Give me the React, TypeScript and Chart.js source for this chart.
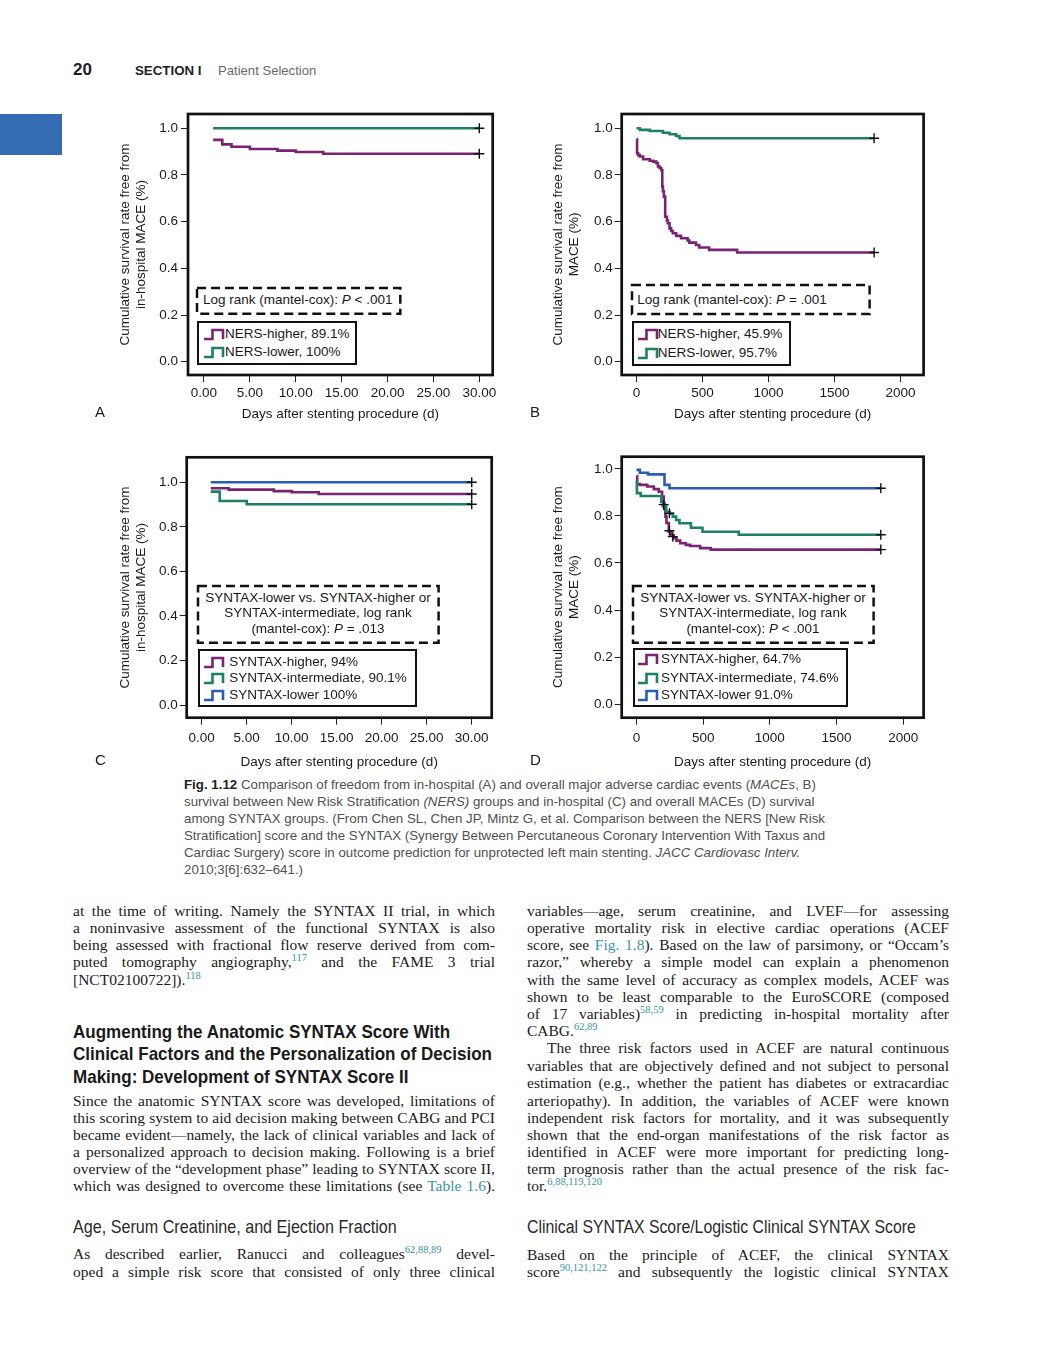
import React, { useEffect, useRef } from 'react';
import { Chart, registerables } from 'chart.js';

Chart.register(...registerables);

const SANS = '"Liberation Sans", Arial, Helvetica, sans-serif';
const SERIF = '"Liberation Serif", "Times New Roman", Times, serif';

const PURPLE = '#7a2372';
const GREEN = '#1b8064';
const BLUE = '#2b5db6';
const TEAL = '#3a93a8';

// ---------------- data ----------------
const yTicks = [0, 0.2, 0.4, 0.6, 0.8, 1.0];
const xTicksInHospital = [0, 5, 10, 15, 20, 25, 30];
const xTicksOverall = [0, 500, 1000, 1500, 2000];

// A: in-hospital MACE by NERS
const daysA_NERSHigher = [1, 2, 3, 5, 8, 10, 13, 30];
const survA_NERSHigher = [0.95, 0.931, 0.921, 0.911, 0.904, 0.898, 0.891, 0.891];
const daysA_NERSLower = [1, 30];
const survA_NERSLower = [1.0, 1.0];
const censorDaysA = [30, 30];
const censorSurvA = [1.0, 0.891];

// B: overall MACE by NERS
const daysB_NERSHigher = [0, 4, 12, 25, 50, 100, 125, 150, 162, 175, 187, 195, 200, 207, 217, 230, 237, 250, 262, 275, 300, 337, 387, 400, 450, 475, 550, 762, 1800];
const survB_NERSHigher = [0.953, 0.893, 0.885, 0.879, 0.867, 0.861, 0.857, 0.85, 0.836, 0.83, 0.821, 0.75, 0.73, 0.707, 0.621, 0.605, 0.593, 0.571, 0.56, 0.55, 0.539, 0.529, 0.519, 0.51, 0.5, 0.489, 0.479, 0.468, 0.468];
const daysB_NERSLower = [0, 25, 100, 200, 250, 300, 325, 1800];
const survB_NERSLower = [1.0, 0.993, 0.988, 0.981, 0.974, 0.967, 0.957, 0.957];
const censorDaysB = [1800, 1800];
const censorSurvB = [0.957, 0.468];

// C: in-hospital MACE by SYNTAX
const daysC_SyntaxHigher = [1, 3, 8, 10, 13, 30];
const survC_SyntaxHigher = [0.973, 0.967, 0.96, 0.955, 0.947, 0.947];
const daysC_SyntaxInter = [1, 2, 5, 30];
const survC_SyntaxInter = [0.958, 0.916, 0.901, 0.901];
const daysC_SyntaxLower = [1, 30];
const survC_SyntaxLower = [1.0, 1.0];
const censorDaysC = [30, 30, 30];
const censorSurvC = [1.0, 0.947, 0.901];

// D: overall MACE by SYNTAX
const daysD_SyntaxHigher = [0, 5, 25, 81, 130, 167, 192, 204, 210, 217, 225, 242, 260, 279, 300, 328, 370, 403, 477, 557, 1832];
const survD_SyntaxHigher = [0.97, 0.936, 0.932, 0.925, 0.914, 0.903, 0.882, 0.854, 0.83, 0.797, 0.77, 0.733, 0.718, 0.705, 0.695, 0.684, 0.677, 0.672, 0.663, 0.657, 0.657];
const daysD_SyntaxInter = [0, 3, 32, 186, 198, 223, 250, 272, 297, 322, 408, 495, 767, 1832];
const survD_SyntaxInter = [0.95, 0.897, 0.885, 0.86, 0.84, 0.818, 0.81, 0.797, 0.783, 0.769, 0.75, 0.733, 0.72, 0.72];
const daysD_SyntaxLower = [0, 25, 86, 210, 247, 1832];
const survD_SyntaxLower = [0.996, 0.984, 0.977, 0.932, 0.918, 0.918];
const censorDaysD = [204, 247, 247, 272, 1832, 1832, 1832];
const censorSurvD = [0.848, 0.811, 0.737, 0.712, 0.918, 0.72, 0.657];

const yTitleInHospital = ['Cumulative survival rate free from', 'in-hospital MACE (%)'];
const yTitleOverall = ['Cumulative survival rate free from', 'MACE (%)'];
const xTitle = 'Days after stenting procedure (d)';

// ---------------- chart configs ----------------
const cfgA = {
  left: 100, top: 100, width: 400, height: 330,
  pad: { left: 0, top: 14, right: 7.3, bottom: 5 }, yAxisWidth: 88, xAxisHeight: 50,
  xMin: -1.74, xMax: 31.46, yMin: -0.057, yMax: 1.061,
  xTicks: xTicksInHospital, xDecimals: 2, xTickPad: 3, xTitlePadBottom: 2.9,
  yTitle: yTitleInHospital, yTitlePad: 17, yTickPad: 3,
  series: [
    { days: daysA_NERSLower, surv: survA_NERSLower, color: GREEN },
    { days: daysA_NERSHigher, surv: survA_NERSHigher, color: PURPLE },
  ],
  censorDays: censorDaysA, censorSurv: censorSurvA,
};
const cfgB = {
  left: 530, top: 100, width: 400, height: 330,
  pad: { left: 0, top: 14, right: 3.3, bottom: 5 }, yAxisWidth: 91.7, xAxisHeight: 50,
  xMin: -112.5, xMax: 2175, yMin: -0.057, yMax: 1.061,
  xTicks: xTicksOverall, xDecimals: 0, xTickPad: 3, xTitlePadBottom: 2.9,
  yTitle: yTitleOverall, yTitlePad: 20, yTickPad: 2,
  series: [
    { days: daysB_NERSLower, surv: survB_NERSLower, color: GREEN },
    { days: daysB_NERSHigher, surv: survB_NERSHigher, color: PURPLE },
  ],
  censorDays: censorDaysB, censorSurv: censorSurvB,
};
const cfgC = {
  left: 100, top: 445, width: 400, height: 330,
  pad: { left: 0, top: 12.3, right: 8.3, bottom: 2.3 }, yAxisWidth: 86.7, xAxisHeight: 55,
  xMin: -1.67, xMax: 32.22, yMin: -0.057, yMax: 1.112,
  xTicks: xTicksInHospital, xDecimals: 2, xTickPad: 5.5, xTitlePadBottom: 2.3,
  yTitle: yTitleInHospital, yTitlePad: 16.7, yTickPad: 2,
  series: [
    { days: daysC_SyntaxLower, surv: survC_SyntaxLower, color: BLUE },
    { days: daysC_SyntaxInter, surv: survC_SyntaxInter, color: GREEN },
    { days: daysC_SyntaxHigher, surv: survC_SyntaxHigher, color: PURPLE },
  ],
  censorDays: censorDaysC, censorSurv: censorSurvC,
};
const cfgD = {
  left: 530, top: 445, width: 400, height: 330,
  pad: { left: 0, top: 11.7, right: 3.3, bottom: 2.3 }, yAxisWidth: 91.7, xAxisHeight: 55,
  xMin: -111, xMax: 2153, yMin: -0.058, yMax: 1.052,
  xTicks: xTicksOverall, xDecimals: 0, xTickPad: 5.5, xTitlePadBottom: 2.3,
  yTitle: yTitleOverall, yTitlePad: 20, yTickPad: 2,
  series: [
    { days: daysD_SyntaxLower, surv: survD_SyntaxLower, color: BLUE },
    { days: daysD_SyntaxInter, surv: survD_SyntaxInter, color: GREEN },
    { days: daysD_SyntaxHigher, surv: survD_SyntaxHigher, color: PURPLE },
  ],
  censorDays: censorDaysD, censorSurv: censorSurvD,
};

const framePlugin = {
  id: 'kmFrame',
  afterDraw(chart: any) {
    const { ctx, chartArea: a } = chart;
    ctx.save();
    ctx.strokeStyle = '#111';
    ctx.lineWidth = 2.7;
    ctx.strokeRect(a.left, a.top, a.right - a.left, a.bottom - a.top);
    ctx.restore();
  },
};

function KMChart({ cfg }: { cfg: any }) {
  const ref = useRef<HTMLCanvasElement | null>(null);
  useEffect(() => {
    if (!ref.current) return;
    const tickFont = { family: 'Liberation Sans', size: 13.5, lineHeight: 1.2 };
    const yTitleFont = { family: 'Liberation Sans', size: 13.5, lineHeight: 1.22 };
    const lines = cfg.series.map((s: any) => ({
      data: s.days.map((d: number, i: number) => ({ x: d, y: s.surv[i] })),
      borderColor: s.color,
      backgroundColor: s.color,
      borderWidth: 2.6,
      pointRadius: 0,
      stepped: true,
      fill: false,
      tension: 0,
      borderCapStyle: 'butt',
      borderJoinStyle: 'miter',
      order: 1,
    }));
    const censor = {
      data: cfg.censorDays.map((d: number, i: number) => ({ x: d, y: cfg.censorSurv[i] })),
      showLine: false,
      pointStyle: 'cross',
      pointRadius: 5,
      pointBorderColor: '#111',
      pointBorderWidth: 1.4,
      borderColor: '#111',
      backgroundColor: '#111',
      order: -1,
    };
    const chart = new Chart(ref.current, {
      type: 'line',
      data: { datasets: [...lines, censor] },
      options: {
        responsive: false,
        animation: false,
        events: [],
        layout: { padding: cfg.pad },
        plugins: { legend: { display: false }, tooltip: { enabled: false } },
        scales: {
          x: {
            type: 'linear',
            min: cfg.xMin,
            max: cfg.xMax,
            afterBuildTicks: (s: any) => { s.ticks = cfg.xTicks.map((v: number) => ({ value: v })); },
            afterFit: (s: any) => { s.height = cfg.xAxisHeight; },
            grid: { drawOnChartArea: false, drawTicks: true, tickLength: 7, color: '#222', lineWidth: 1 },
            border: { display: false },
            ticks: {
              color: '#1a1a1a', font: tickFont, padding: cfg.xTickPad, maxRotation: 0, autoSkip: false,
              callback: (v: any) => Number(v).toFixed(cfg.xDecimals),
            },
            title: { display: true, text: xTitle, color: '#1a1a1a', font: tickFont, padding: { top: 0, bottom: cfg.xTitlePadBottom } },
          },
          y: {
            type: 'linear',
            min: cfg.yMin,
            max: cfg.yMax,
            afterBuildTicks: (s: any) => { s.ticks = yTicks.map((v: number) => ({ value: v })); },
            afterFit: (s: any) => { s.width = cfg.yAxisWidth; },
            grid: { drawOnChartArea: false, drawTicks: true, tickLength: 7, color: '#222', lineWidth: 1 },
            border: { display: false },
            ticks: {
              color: '#1a1a1a', font: tickFont, padding: cfg.yTickPad, autoSkip: false,
              callback: (v: any) => Number(v).toFixed(1),
            },
            title: { display: true, text: cfg.yTitle, color: '#1a1a1a', font: yTitleFont, padding: { top: cfg.yTitlePad, bottom: 0 } },
          },
        },
      } as any,
      plugins: [framePlugin as any],
    } as any);
    return () => chart.destroy();
  }, [cfg]);
  return (
    <canvas
      ref={ref}
      width={cfg.width}
      height={cfg.height}
      style={{ position: 'absolute', left: cfg.left, top: cfg.top, width: cfg.width, height: cfg.height }}
    />
  );
}

// ---------------- overlay helpers ----------------
function T({ x, y, size = 13.5, children, style }: any) {
  return (
    <div
      style={{
        position: 'absolute', left: x, top: y - size * 0.6, height: size * 1.2,
        lineHeight: `${size * 1.2}px`, fontSize: size, fontFamily: SANS, color: '#1a1a1a',
        whiteSpace: 'nowrap', ...style,
      }}
    >
      {children}
    </div>
  );
}

function DashedBox({ x, y, w, h }: any) {
  return (
    <svg style={{ position: 'absolute', left: x - 2, top: y - 2 }} width={w + 4} height={h + 4}>
      <rect x={2} y={2} width={w} height={h} fill="#fff" stroke="#111" strokeWidth={2.5} strokeDasharray="9 5" />
    </svg>
  );
}

function LegendBox({ x, y, w, h }: any) {
  return (
    <div
      style={{
        position: 'absolute', left: x, top: y, width: w, height: h, boxSizing: 'border-box',
        border: '2.6px solid #111', background: '#fff',
      }}
    />
  );
}

function StepIcon({ x, y, color }: any) {
  return (
    <svg style={{ position: 'absolute', left: x, top: y - 6 }} width={22} height={13}>
      <polyline points="0,11 8.5,11 8.5,2 19,2 19,11" fill="none" stroke={color} strokeWidth={2.6} />
    </svg>
  );
}

function LegendEntry({ ix, tx, y, color, children }: any) {
  return (
    <>
      <StepIcon x={ix} y={y} color={color} />
      <T x={tx} y={y}>{children}</T>
    </>
  );
}

const Sup = ({ children }: any) => (
  <span style={{ fontSize: 10.5, color: TEAL, position: 'relative', top: -6 }}>{children}</span>
);
const Link = ({ children }: any) => <span style={{ color: TEAL }}>{children}</span>;

function BL({ x, y, w = 422, j = true, children }: any) {
  return (
    <div
      style={{
        position: 'absolute', left: x, top: y - 10, width: w, height: 17, lineHeight: '17px',
        fontFamily: SERIF, fontSize: 15.5, color: '#1a1a1a', whiteSpace: 'nowrap',
        textAlign: j ? 'justify' : 'left', textAlignLast: j ? 'justify' : 'left',
      } as any}
    >
      {children}
    </div>
  );
}

function Heading({ x, y, bold, scale, children }: any) {
  return (
    <div
      style={{
        position: 'absolute', left: x, top: y - 11, height: 22, lineHeight: '22px',
        fontFamily: SANS, fontSize: 18.5, fontWeight: bold ? 700 : 400,
        color: bold ? '#1a1a1a' : '#2a2a2a', whiteSpace: 'nowrap',
        transform: `scaleX(${scale})`, transformOrigin: 'left center',
      }}
    >
      {children}
    </div>
  );
}

const LX = 73;
const RX = 527;

export default function App() {
  return (
    <div
      style={{
        position: 'absolute', left: 0, top: 0, width: 1052, height: 1346, background: '#fff',
        overflow: 'hidden', fontFamily: SANS,
      }}
    >
      {/* page header */}
      <T x={73} y={70} size={17} style={{ fontWeight: 700, color: '#222' }}>20</T>
      <T x={135} y={71} size={13.3} style={{ fontWeight: 700, color: '#222' }}>SECTION I</T>
      <T x={218} y={71} size={13.1} style={{ color: '#6a6a6a' }}>Patient Selection</T>
      <div style={{ position: 'absolute', left: 0, top: 114, width: 62, height: 41, background: '#356cb4' }} />

      {/* charts */}
      <KMChart cfg={cfgA} />
      <KMChart cfg={cfgB} />
      <KMChart cfg={cfgC} />
      <KMChart cfg={cfgD} />

      {/* panel letters */}
      <T x={95} y={412} size={15}>A</T>
      <T x={530} y={412} size={15}>B</T>
      <T x={95} y={760} size={15}>C</T>
      <T x={530} y={760} size={15}>D</T>

      {/* A annotations */}
      <DashedBox x={196.7} y={288.3} w={203.3} h={25.7} />
      <T x={203} y={300}>Log rank (mantel-cox): <i>P</i> &lt; .001</T>
      <LegendBox x={196.7} y={320.7} w={160.6} h={44.3} />
      <LegendEntry ix={204} tx={225} y={334} color={PURPLE}>NERS-higher, 89.1%</LegendEntry>
      <LegendEntry ix={204} tx={225} y={352.3} color={GREEN}>NERS-lower, 100%</LegendEntry>

      {/* B annotations */}
      <DashedBox x={631.7} y={285} w={237.6} h={29} />
      <T x={637.3} y={300}>Log rank (mantel-cox): <i>P</i> = .001</T>
      <LegendBox x={631.7} y={320.7} w={159} h={45} />
      <LegendEntry ix={638} tx={657.7} y={334} color={PURPLE}>NERS-higher, 45.9%</LegendEntry>
      <LegendEntry ix={638} tx={657.7} y={352.7} color={GREEN}>NERS-lower, 95.7%</LegendEntry>

      {/* C annotations */}
      <DashedBox x={197.7} y={586} w={240.6} h={56.7} />
      <T x={197.7} y={597.7} style={{ width: 240.6, textAlign: 'center' }}>SYNTAX-lower vs. SYNTAX-higher or</T>
      <T x={197.7} y={613.3} style={{ width: 240.6, textAlign: 'center' }}>SYNTAX-intermediate, log rank</T>
      <T x={197.7} y={629} style={{ width: 240.6, textAlign: 'center' }}>(mantel-cox): <i>P</i> = .013</T>
      <LegendBox x={197.7} y={649} w={219} h={57.7} />
      <LegendEntry ix={204} tx={229.3} y={661.7} color={PURPLE}>SYNTAX-higher, 94%</LegendEntry>
      <LegendEntry ix={204} tx={229.3} y={678.3} color={GREEN}>SYNTAX-intermediate, 90.1%</LegendEntry>
      <LegendEntry ix={204} tx={229.3} y={695} color={BLUE}>SYNTAX-lower 100%</LegendEntry>

      {/* D annotations */}
      <DashedBox x={632.7} y={586} w={240.6} h={56.7} />
      <T x={632.7} y={597.7} style={{ width: 240.6, textAlign: 'center' }}>SYNTAX-lower vs. SYNTAX-higher or</T>
      <T x={632.7} y={613.3} style={{ width: 240.6, textAlign: 'center' }}>SYNTAX-intermediate, log rank</T>
      <T x={632.7} y={629} style={{ width: 240.6, textAlign: 'center' }}>(mantel-cox): <i>P</i> &lt; .001</T>
      <LegendBox x={632.7} y={648.3} w={215.6} h={58.4} />
      <LegendEntry ix={638} tx={661} y={659.3} color={PURPLE}>SYNTAX-higher, 64.7%</LegendEntry>
      <LegendEntry ix={638} tx={661} y={677.7} color={GREEN}>SYNTAX-intermediate, 74.6%</LegendEntry>
      <LegendEntry ix={638} tx={661} y={695} color={BLUE}>SYNTAX-lower 91.0%</LegendEntry>

      {/* caption */}
      <div style={{ position: 'absolute', left: 184, top: 776, fontFamily: SANS, fontSize: 13.3, lineHeight: '17px', color: '#505050', whiteSpace: 'nowrap' }}>
        <div><b style={{ color: '#222' }}>Fig. 1.12</b> Comparison of freedom from in-hospital (A) and overall major adverse cardiac events (<i>MACEs</i>, B)</div>
        <div>survival between New Risk Stratification <i>(NERS)</i> groups and in-hospital (C) and overall MACEs (D) survival</div>
        <div>among SYNTAX groups. (From Chen SL, Chen JP, Mintz G, et al. Comparison between the NERS [New Risk</div>
        <div>Stratification] score and the SYNTAX (Synergy Between Percutaneous Coronary Intervention With Taxus and</div>
        <div>Cardiac Surgery) score in outcome prediction for unprotected left main stenting. <i>JACC Cardiovasc Interv.</i></div>
        <div>2010;3[6]:632–641.)</div>
      </div>

      {/* left column */}
      <BL x={LX} y={911.7}>at the time of writing. Namely the SYNTAX II trial, in which</BL>
      <BL x={LX} y={929}>a noninvasive assessment of the functional SYNTAX is also</BL>
      <BL x={LX} y={946.3}>being assessed with fractional flow reserve derived from com-</BL>
      <BL x={LX} y={963.3}>puted tomography angiography,<Sup>117</Sup> and the FAME 3 trial</BL>
      <BL x={LX} y={981} j={false}>[NCT02100722]).<Sup>118</Sup></BL>

      <Heading x={LX} y={1031.7} bold scale={0.92}>Augmenting the Anatomic SYNTAX Score With</Heading>
      <Heading x={LX} y={1054.3} bold scale={0.92}>Clinical Factors and the Personalization of Decision</Heading>
      <Heading x={LX} y={1076.7} bold scale={0.92}>Making: Development of SYNTAX Score II</Heading>

      <BL x={LX} y={1101.7}>Since the anatomic SYNTAX score was developed, limitations of</BL>
      <BL x={LX} y={1118.7}>this scoring system to aid decision making between CABG and PCI</BL>
      <BL x={LX} y={1135.7}>became evident—namely, the lack of clinical variables and lack of</BL>
      <BL x={LX} y={1152.7}>a personalized approach to decision making. Following is a brief</BL>
      <BL x={LX} y={1169.7}>overview of the “development phase” leading to SYNTAX score II,</BL>
      <BL x={LX} y={1186.7}>which was designed to overcome these limitations (see <Link>Table 1.6</Link>).</BL>

      <Heading x={LX} y={1227.3} scale={0.872}>Age, Serum Creatinine, and Ejection Fraction</Heading>
      <BL x={LX} y={1255}>As described earlier, Ranucci and colleagues<Sup>62,88,89</Sup> devel-</BL>
      <BL x={LX} y={1272.7}>oped a simple risk score that consisted of only three clinical</BL>

      {/* right column */}
      <BL x={RX} y={911.7}>variables—age, serum creatinine, and LVEF—for assessing</BL>
      <BL x={RX} y={929}>operative mortality risk in elective cardiac operations (ACEF</BL>
      <BL x={RX} y={946}>score, see <Link>Fig. 1.8</Link>). Based on the law of parsimony, or “Occam’s</BL>
      <BL x={RX} y={963.3}>razor,” whereby a simple model can explain a phenomenon</BL>
      <BL x={RX} y={980.7}>with the same level of accuracy as complex models, ACEF was</BL>
      <BL x={RX} y={997.7}>shown to be least comparable to the EuroSCORE (composed</BL>
      <BL x={RX} y={1015}>of 17 variables)<Sup>58,59</Sup> in predicting in-hospital mortality after</BL>
      <BL x={RX} y={1031.5} j={false}>CABG.<Sup>62,89</Sup></BL>
      <BL x={RX + 20} y={1049.3} w={402}>The three risk factors used in ACEF are natural continuous</BL>
      <BL x={RX} y={1066.7}>variables that are objectively defined and not subject to personal</BL>
      <BL x={RX} y={1084}>estimation (e.g., whether the patient has diabetes or extracardiac</BL>
      <BL x={RX} y={1101.7}>arteriopathy). In addition, the variables of ACEF were known</BL>
      <BL x={RX} y={1118.7}>independent risk factors for mortality, and it was subsequently</BL>
      <BL x={RX} y={1135.7}>shown that the end-organ manifestations of the risk factor as</BL>
      <BL x={RX} y={1152.7}>identified in ACEF were more important for predicting long-</BL>
      <BL x={RX} y={1170}>term prognosis rather than the actual presence of the risk fac-</BL>
      <BL x={RX} y={1187.3} j={false}>tor.<Sup>6,88,119,120</Sup></BL>

      <Heading x={RX} y={1226.7} scale={0.855}>Clinical SYNTAX Score/Logistic Clinical SYNTAX Score</Heading>
      <BL x={RX} y={1255.7}>Based on the principle of ACEF, the clinical SYNTAX</BL>
      <BL x={RX} y={1272.7}>score<Sup>90,121,122</Sup> and subsequently the logistic clinical SYNTAX</BL>
    </div>
  );
}
